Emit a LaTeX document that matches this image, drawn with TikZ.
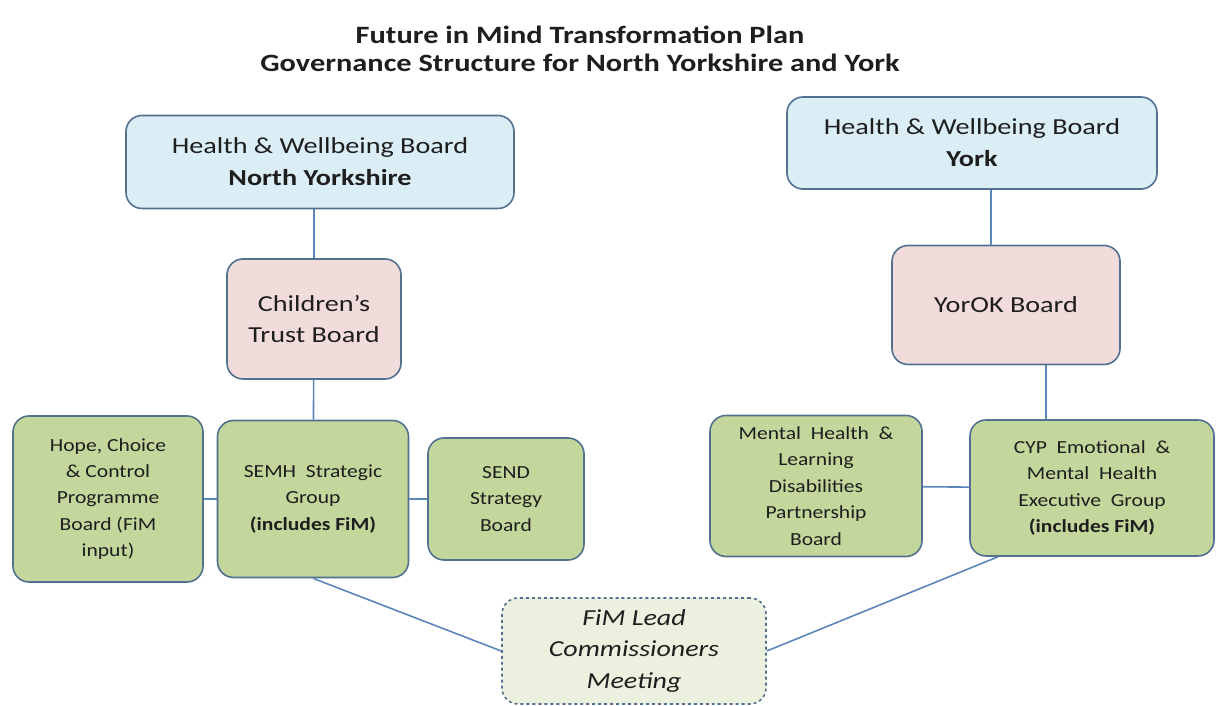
\documentclass[tikz,border=0pt]{standalone}
\usepackage{fontspec}
\setmainfont{Carlito}
\newfontfamily\titlefont{Carlito}[FakeStretch=1.22]
\newfontfamily\hwbfont{Carlito}[FakeStretch=1.23]
\newfontfamily\groupfont{Carlito}[FakeStretch=1.17]
\newfontfamily\meetfont{Carlito}[FakeStretch=1.22]
\definecolor{boxline}{HTML}{52708F}
\definecolor{linkline}{HTML}{5A86BA}
\definecolor{hwbfill}{HTML}{DCEEF5}
\definecolor{trustfill}{HTML}{F2DCDB}
\definecolor{groupfill}{HTML}{C3D69B}
\definecolor{meetfill}{HTML}{EBF1DE}
\definecolor{inktext}{HTML}{1E1E1E}
\begin{document}
\begin{tikzpicture}[x=1bp,y=1bp,line join=round,
  board/.style={draw=boxline,line width=1.6bp,rectangle,rounded corners=16bp,align=center,inner sep=0pt,text=inktext},
  hwb/.style={board,fill=hwbfill,font=\hwbfont\fontsize{23}{32}\selectfont},
  trust/.style={board,fill=trustfill,font=\hwbfont\fontsize{23}{32}\selectfont},
  group/.style={board,fill=groupfill,font=\groupfont\fontsize{18.5}{26.5}\selectfont},
  meet/.style={board,dashed,fill=meetfill,font=\meetfont\fontsize{23}{32}\selectfont\itshape},
  link/.style={draw=linkline,line width=1.6bp},
]
\useasboundingbox (0,0) rectangle (1216,706);
%%
\node (title) at (580bp,657bp) [align=center,text=inktext,font=\titlefont\fontsize{25}{28}\selectfont\bfseries] {Future in Mind Transformation Plan\\Governance Structure for North Yorkshire and York};
  \node (hwb_ny) at (320bp,544bp) [hwb,minimum width=388bp,minimum height=93bp] {Health \& Wellbeing Board\\\textbf{North Yorkshire}};
  \node (hwb_york) at (972bp,563bp) [hwb,minimum width=370bp,minimum height=92bp] {Health \& Wellbeing Board\\\textbf{York}};
  \node (trust_board) at (314bp,387bp) [trust,minimum width=174bp,minimum height=120bp] {Children’s\\Trust Board};
  \node (yorok_board) at (1006bp,401bp) [trust,minimum width=228bp,minimum height=119bp] {YorOK Board};
  \node (hope_board) at (108bp,207bp) [group,minimum width=190bp,minimum height=166bp] {Hope, Choice\\\& Control\\Programme\\Board (FiM\\input)};
  \node (semh_group) at (313bp,207bp) [group,minimum width=191bp,minimum height=157bp] {SEMH \ Strategic\\Group\\\textbf{(includes FiM)}};
  \node (send_board) at (506bp,207bp) [group,minimum width=156bp,minimum height=122bp] {SEND\\Strategy\\Board};
  \node (mhld_board) at (816bp,220bp) [group,minimum width=212bp,minimum height=141bp] {Mental \ Health \ \&\\Learning\\Disabilities\\Partnership\\Board};
  \node (cyp_group) at (1092bp,218bp) [group,minimum width=244bp,minimum height=136bp] {CYP \ Emotional \ \&\\Mental \ Health\\Executive \ Group\\\textbf{(includes FiM)}};
  \node (fim_meeting) at (634bp,55bp) [meet,minimum width=264bp,minimum height=106bp] {FiM Lead\\Commissioners\\Meeting};
  \draw [link] (trust_board.north) -- (trust_board.north |- hwb_ny.south);
  \draw [link] (trust_board) -- (semh_group);
  \draw [link] (hope_board) -- (semh_group);
  \draw [link] (semh_group) -- (send_board);
  \draw [link] ([xshift=-15bp]yorok_board.north) -- ([xshift=-15bp]yorok_board.north |- hwb_york.south);
  \draw [link] ([xshift=40bp]yorok_board.south) -- ([xshift=40bp]yorok_board.south |- cyp_group.north);
  \draw [link] (mhld_board) -- (cyp_group);
  \draw [link] (semh_group.south) -- (fim_meeting.west);
  \draw [link] ([xshift=-94bp]cyp_group.south) -- (fim_meeting.east);
%
\end{tikzpicture}
\end{document}
